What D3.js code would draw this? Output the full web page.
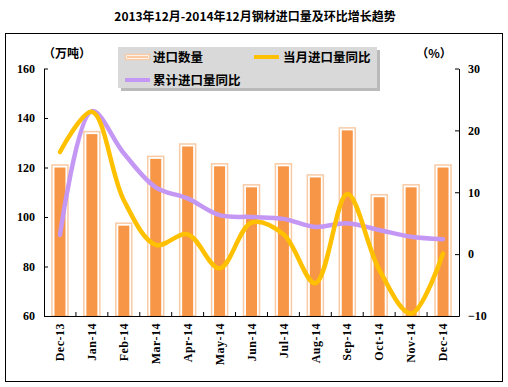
<!DOCTYPE html>
<html>
<head>
<meta charset="utf-8">
<script src="https://cdn.jsdelivr.net/npm/d3@7"></script>
<style>
body { margin:0; background:#fff; }
text { font-family: "Liberation Serif", serif; font-weight: bold; }
.cn { font-family: "Noto Sans CJK SC", sans-serif; font-weight: bold; }
</style>
</head>
<body>
<svg id="chart" width="508" height="387"></svg>
<script>
// data
var months = ["Dec-13","Jan-14","Feb-14","Mar-14","Apr-14","May-14","Jun-14","Jul-14","Aug-14","Sep-14","Oct-14","Nov-14","Dec-14"];
var imports = [121, 134.5, 97.5, 124.5, 129.5, 121.5, 113, 121.5, 117, 136, 109, 113, 121];
var monthYoY = [16.5, 23, 8.7, 1.5, 3.2, -2.3, 5.1, 3.2, -4.7, 9.7, -2.5, -9.6, 0.1];
var cumYoY = [3.1, 23.1, 16.3, 10.8, 9, 6.3, 6, 5.7, 4.4, 5, 3.9, 2.8, 2.4];
var leftTicks = [60, 80, 100, 120, 140, 160];
var rightTicks = [-10, 0, 10, 20, 30];

var svg = d3.select("#chart");
var plot = {left: 44, right: 459, top: 68.5, bottom: 316};

// outer frame
svg.append("rect")
    .attr("x", 5.5).attr("y", 33.5)
    .attr("width", 497).attr("height", 348)
    .attr("fill", "none").attr("stroke", "#000").attr("stroke-width", 1);

svg.append("text")
    .attr("class", "cn")
    .attr("x", 255).attr("y", 21)
    .attr("text-anchor", "middle")
    .attr("font-size", "12px")
    .text("2013年12月-2014年12月钢材进口量及环比增长趋势");

var x = d3.scaleBand().domain(months).range([plot.left, plot.right]);
var yl = d3.scaleLinear().domain([60, 160]).range([plot.bottom, plot.top]);
var yr = d3.scaleLinear().domain([-10, 30]).range([plot.bottom, plot.top]);

// bars
var bw = 16;
var bars = svg.append("g");
bars.selectAll(".outer")
    .data(imports)
    .enter()
    .append("rect")
    .attr("x", function(d, i){ return x(months[i]) + x.bandwidth()/2 - bw/2; })
    .attr("y", function(d){ return yl(d); })
    .attr("width", bw)
    .attr("height", function(d){ return plot.bottom - yl(d); })
    .attr("fill", "#fff")
    .attr("stroke", "#F8CBA6")
    .attr("stroke-width", 1.5);
bars.selectAll(".inner")
    .data(imports)
    .enter()
    .append("rect")
    .attr("x", function(d, i){ return x(months[i]) + x.bandwidth()/2 - bw/2 + 2.5; })
    .attr("y", function(d){ return yl(d) + 2.5; })
    .attr("width", bw - 5)
    .attr("height", function(d){ return plot.bottom - yl(d) - 2.5; })
    .attr("fill", "#F79646");

// lines
var lineR = d3.line()
    .x(function(d, i){ return x(months[i]) + x.bandwidth()/2; })
    .y(function(d){ return yr(d); })
    .curve(d3.curveCatmullRom.alpha(0.5));

svg.append("path")
    .attr("d", lineR(cumYoY))
    .attr("fill", "none")
    .attr("stroke", "#C497F5")
    .attr("stroke-width", 4.5)
    .attr("stroke-linecap", "round");

svg.append("path")
    .attr("d", lineR(monthYoY))
    .attr("fill", "none")
    .attr("stroke", "#FFC000")
    .attr("stroke-width", 4.5)
    .attr("stroke-linecap", "round");

// axes
var axL = d3.axisLeft(yl).tickValues(leftTicks).tickSizeInner(-4).tickSizeOuter(0).tickPadding(9);
var gL = svg.append("g").attr("transform", "translate(" + plot.left + ",0)").call(axL);
var axR = d3.axisRight(yr).tickValues(rightTicks).tickSizeInner(-4).tickSizeOuter(0).tickPadding(9);
var gR = svg.append("g").attr("transform", "translate(" + plot.right + ",0)").call(axR);
var axB = d3.axisBottom(x).tickSize(0).tickPadding(7);
var gB = svg.append("g").attr("transform", "translate(0," + plot.bottom + ")").call(axB);

[gL, gR, gB].forEach(function(g){
    g.selectAll("path").attr("stroke", "#000");
    g.selectAll("line").attr("stroke", "#000");
    g.selectAll("text")
        .attr("fill", "#000")
        .style("font-family", "Liberation Serif, serif")
        .style("font-weight", "bold")
        .style("font-size", "12px");
});
gB.selectAll("text")
    .attr("transform", "rotate(-90)")
    .attr("text-anchor", "end")
    .attr("x", -7).attr("y", 0).attr("dy", "0.35em")
    .style("font-size", "12px")
    .style("letter-spacing", "0.5px");

// category boundary ticks (inside)
svg.append("g").selectAll("line")
    .data(months.slice(1))
    .enter()
    .append("line")
    .attr("x1", function(d){ return x(d); })
    .attr("x2", function(d){ return x(d); })
    .attr("y1", plot.bottom)
    .attr("y2", plot.bottom - 4)
    .attr("stroke", "#000");

// unit labels
svg.append("text").attr("class", "cn").attr("x", 67).attr("y", 58)
    .attr("text-anchor", "middle").attr("font-size", "12px").text("（万吨）");
svg.append("text").attr("class", "cn").attr("x", 434).attr("y", 58)
    .attr("text-anchor", "middle").attr("font-size", "12px").text("（%）");

// legend
var lg = svg.append("g");
lg.append("rect").attr("x", 121).attr("y", 50).attr("width", 259).attr("height", 41).attr("fill", "#8c8c8c").attr("opacity", 0.6);
lg.append("rect").attr("x", 118).attr("y", 47).attr("width", 259).attr("height", 41).attr("fill", "#D9D9D9");
lg.append("rect").attr("x", 125.5).attr("y", 54.5).attr("width", 24).attr("height", 5)
    .attr("fill", "#fff").attr("stroke", "#F8CBA6").attr("stroke-width", 1.5);
lg.append("line").attr("x1", 127).attr("x2", 148).attr("y1", 57).attr("y2", 57)
    .attr("stroke", "#F79646").attr("stroke-width", 1);
lg.append("text").attr("class", "cn").attr("x", 153).attr("y", 62).attr("font-size", "12.5px").text("进口数量");
lg.append("line").attr("x1", 254).attr("x2", 279).attr("y1", 57).attr("y2", 57)
    .attr("stroke", "#FFC000").attr("stroke-width", 4);
lg.append("text").attr("class", "cn").attr("x", 283).attr("y", 62).attr("font-size", "12.5px").text("当月进口量同比");
lg.append("line").attr("x1", 125).attr("x2", 150).attr("y1", 80).attr("y2", 80)
    .attr("stroke", "#C497F5").attr("stroke-width", 4);
lg.append("text").attr("class", "cn").attr("x", 153).attr("y", 85).attr("font-size", "12.5px").text("累计进口量同比");
</script>
</body>
</html>
